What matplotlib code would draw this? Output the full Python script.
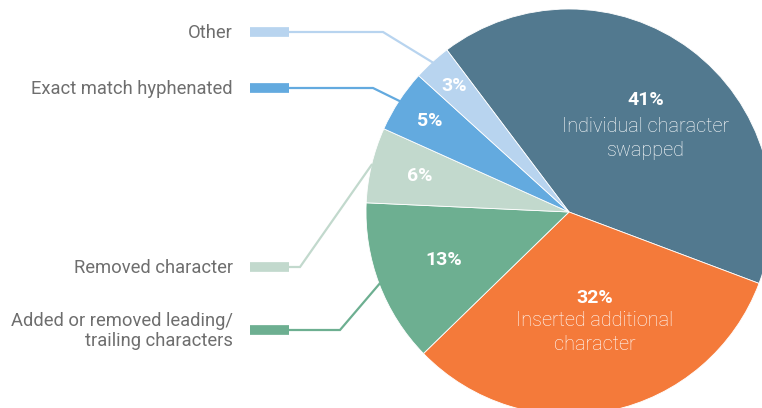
import numpy as np
import matplotlib
matplotlib.use("Agg")
import matplotlib.pyplot as plt

# Data
categories = ["Individual character\nswapped", "Inserted additional\ncharacter",
              "Added or removed leading/\ntrailing characters", "Removed character",
              "Exact match hyphenated", "Other"]
values = [41, 32, 13, 6, 5, 3]
pct_labels = ["41%", "32%", "13%", "6%", "5%", "3%"]
colors = ["#52798f", "#f47a3a", "#6daf91", "#c2d9cd", "#63aadf", "#b8d4ef"]

W, H = 762, 408
fig = plt.figure(figsize=(W / 100, H / 100), dpi=100)
ax = fig.add_axes([0, 0, 1, 1])

cx, cy, R = 569, H - 212, 203
wedges, _ = ax.pie(values, colors=colors, startangle=127, counterclock=False,
                   center=(cx, cy), radius=R,
                   wedgeprops=dict(edgecolor="white", linewidth=0.6))
ax.set_xlim(0, W)
ax.set_ylim(0, H)
ax.set_aspect("equal")
ax.axis("off")

font = "Roboto"
gray = "#6e6e6e"

def mid_angle(w):
    return np.deg2rad((w.theta1 + w.theta2) / 2)

# percentage labels for small slices (radial fraction)
small_pos = {2: 0.66, 3: 0.755, 4: 0.82, 5: 0.84}
for i, frac in small_pos.items():
    a = mid_angle(wedges[i])
    ax.text(cx + frac * R * np.cos(a), cy + frac * R * np.sin(a), pct_labels[i],
            color="white", fontsize=14, fontweight="bold", family=font,
            ha="center", va="center")

# big slices: pct + name inside
big_pos = {0: (646, 100, 117), 1: (595, 298, 311)}
for i, (x, y, y2) in big_pos.items():
    ax.text(x, H - y, pct_labels[i], color="white", fontsize=14, fontweight="bold",
            family=font, ha="center", va="center")
    ax.text(x, H - y2, categories[i], color="white", fontsize=14.3,
            fontweight="light", family=font, ha="center", va="top",
            linespacing=1.3)

# leader labels on left
rows = {5: (32, 383), 4: (88, 373), 3: (267, 300), 2: (330, 340)}
for i, (y, elbow) in rows.items():
    yy = H - y
    a = mid_angle(wedges[i])
    ex, ey = cx + R * np.cos(a), cy + R * np.sin(a)
    ax.plot([250, 289], [yy, yy], color=colors[i], lw=7, solid_capstyle="butt")
    ax.plot([289, elbow, ex], [yy, yy, ey], color=colors[i], lw=1.6,
            solid_joinstyle="miter")
    ax.text(233, yy - 1, categories[i], color=gray, fontsize=13.2, fontweight="normal",
            family=font, ha="right", va="center", multialignment="right",
            linespacing=1.2)

fig.savefig("out.png", dpi=100)
